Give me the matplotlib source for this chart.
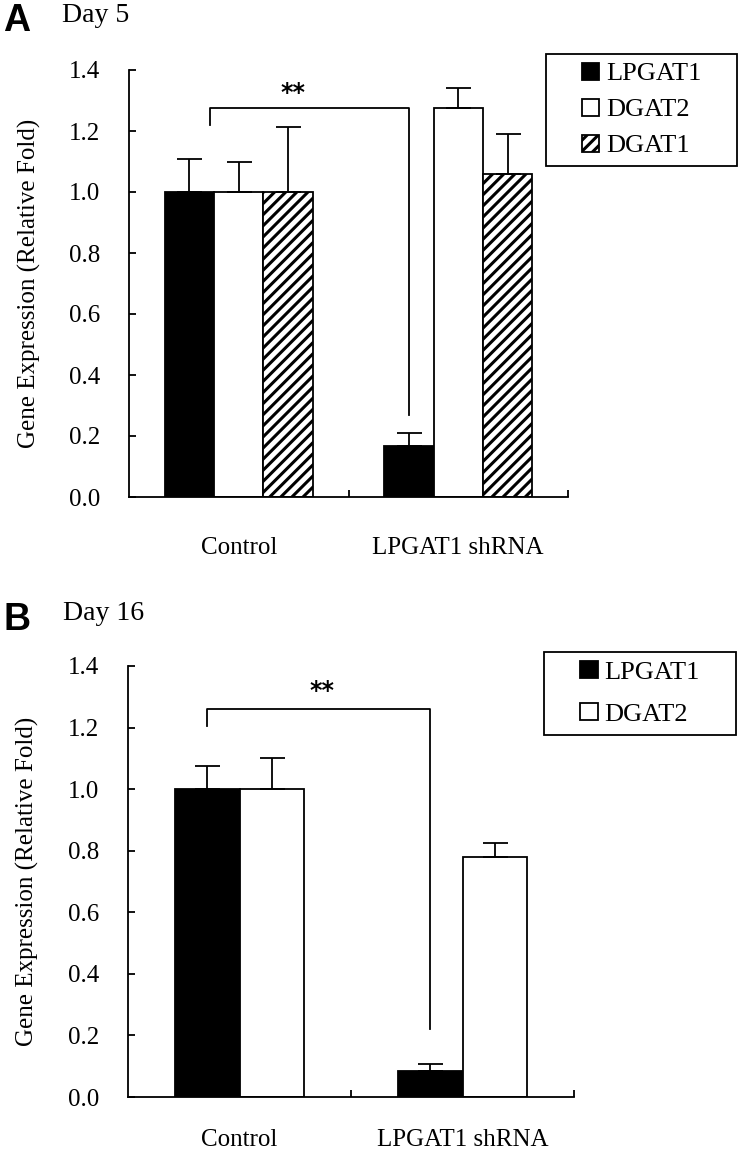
import numpy as np
import matplotlib
matplotlib.use("Agg")
import matplotlib.pyplot as plt
from matplotlib.patches import Rectangle

plt.rcParams["font.family"] = ["Liberation Serif", "DejaVu Serif"]
plt.rcParams["hatch.linewidth"] = 2.2
plt.rcParams["hatch.color"] = "black"

# ── data ────────────────────────────────────────────────────────────────
groups = ["Control", "LPGAT1 shRNA"]

# Day 5
day5_lpgat1 = [1.00, 0.167]
day5_lpgat1_err = [0.108, 0.043]
day5_dgat2 = [1.00, 1.276]
day5_dgat2_err = [0.100, 0.066]
day5_dgat1 = [1.00, 1.059]
day5_dgat1_err = [0.213, 0.130]

# Day 16
day16_lpgat1 = [1.00, 0.084]
day16_lpgat1_err = [0.075, 0.023]
day16_dgat2 = [1.00, 0.779]
day16_dgat2_err = [0.100, 0.046]

yticks = [0.0, 0.2, 0.4, 0.6, 0.8, 1.0, 1.2, 1.4]
ylabel = "Gene Expression (Relative Fold)"

FS = 18
LW = 1.3


def style_axes(ax, label_pad):
    for s in ["top", "right"]:
        ax.spines[s].set_visible(False)
    for s in ["left", "bottom"]:
        ax.spines[s].set_linewidth(LW)
    ax.set_xlim(-0.5, 1.5)
    ax.set_ylim(0, 1.4)
    ax.set_yticks(yticks)
    ax.set_yticklabels([f"{t:.1f}" for t in yticks], fontsize=FS)
    ax.tick_params(axis="y", direction="in", length=5, width=LW, pad=21)
    # group separators as major ticks, group names as minor ticks
    ax.set_xticks([0.5, 1.5])
    ax.set_xticklabels(["", ""])
    ax.tick_params(axis="x", which="major", direction="in", length=5, width=LW)
    ax.set_xticks([0, 1], minor=True)
    ax.set_xticklabels(groups, minor=True, fontsize=FS)
    ax.tick_params(axis="x", which="minor", length=0, pad=label_pad)
    ax.set_ylabel(ylabel, fontsize=FS)
    ax.yaxis.set_label_coords(-0.2, 0.5)


def draw_bars(ax, series, width):
    x = np.arange(len(groups))
    n = len(series)
    offsets = (np.arange(n) - (n - 1) / 2) * width
    handles = []
    for (vals, errs, face, hatch), off in zip(series, offsets):
        b = ax.bar(x + off, vals, width, color=face, edgecolor="black",
                   linewidth=LW, hatch=hatch, zorder=2)
        ax.errorbar(x + off, vals, yerr=[np.zeros(len(vals)), errs], fmt="none",
                    ecolor="black", elinewidth=LW, capsize=9, capthick=LW, zorder=3)
        handles.append(b)
    return handles, offsets


def bracket(ax, x0, x1, y, y0_end, y1_end, star_x, star_y):
    ax.plot([x0, x0, x1, x1], [y0_end, y, y, y1_end], color="black",
            lw=LW, zorder=4, clip_on=False)
    ax.text(star_x, star_y, "**", ha="center", va="center",
            fontsize=17, fontweight="bold", family="DejaVu Sans")


def legend_box(fig, handles, labels, x0, y0, w, h, spacing):
    fig.legend(handles, labels, loc="center", bbox_to_anchor=(x0 + w / 2, y0 + h / 2),
               frameon=False, fontsize=FS + 1, handlelength=0.66, handleheight=0.62,
               handletextpad=0.25, labelspacing=spacing, borderpad=0)
    fig.patches.append(Rectangle((x0, y0), w, h, transform=fig.transFigure,
                                 fill=False, edgecolor="black", lw=LW))


fig = plt.figure(figsize=(7.4, 11.52), dpi=100)

# ── Panel A: Day 5 ──────────────────────────────────────────────────────
axA = fig.add_axes([129 / 740, 1 - 497 / 1152, 439 / 740, 427 / 1152])
hA, offA = draw_bars(axA, [
    (day5_lpgat1, day5_lpgat1_err, "black", None),
    (day5_dgat2, day5_dgat2_err, "white", None),
    (day5_dgat1, day5_dgat1_err, "white", "///"),
], 0.225)
style_axes(axA, label_pad=29)
bracket(axA, -0.13, 1 + offA[0], 1.276, 1.22, 0.27, 0.245, 1.325)
legend_box(fig, hA, ["LPGAT1", "DGAT2", "DGAT1"],
           546 / 740, 1 - 166 / 1152, 191 / 740, 112 / 1152, 0.5)
fig.text(3 / 740, 1 - 21 / 1152, "A", fontsize=27, fontweight="bold",
         family="Liberation Sans", va="center", ha="left")
fig.text(62 / 740, 1 - 16 / 1152, "Day 5", fontsize=FS + 2, va="center", ha="left")

# ── Panel B: Day 16 ─────────────────────────────────────────────────────
axB = fig.add_axes([128 / 740, 1 - 1097 / 1152, 446 / 740, 431 / 1152])
hB, offB = draw_bars(axB, [
    (day16_lpgat1, day16_lpgat1_err, "black", None),
    (day16_dgat2, day16_dgat2_err, "white", None),
], 0.29)
style_axes(axB, label_pad=23)
bracket(axB, offB[0], 1 + offB[0], 1.26, 1.205, 0.22, 0.37, 1.32)
legend_box(fig, hB, ["LPGAT1", "DGAT2"],
           544 / 740, 1 - 735 / 1152, 192 / 740, 83 / 1152, 0.75)
fig.text(4 / 740, 1 - 620 / 1152, "B", fontsize=27, fontweight="bold",
         family="Liberation Sans", va="center", ha="left")
fig.text(63 / 740, 1 - 614 / 1152, "Day 16", fontsize=FS + 2, va="center", ha="left")

fig.savefig("out.png", dpi=100, facecolor="white")
